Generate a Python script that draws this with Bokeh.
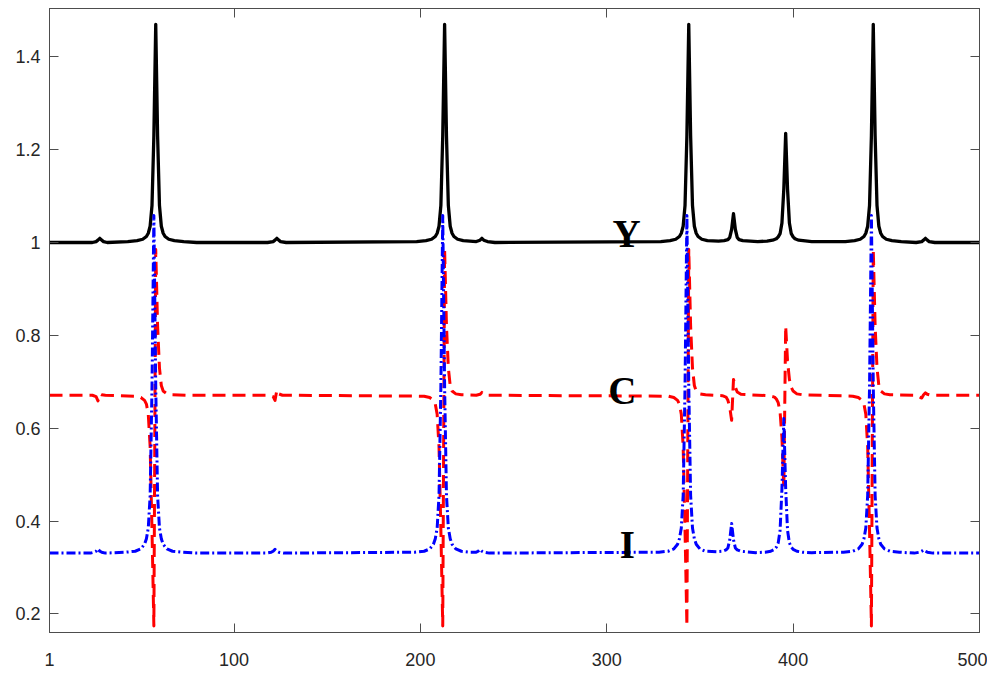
from bokeh.plotting import figure
from bokeh.models import Range1d, FixedTicker, LinearAxis, CustomJSTickFormatter, Label
from bokeh.embed import file_html
from bokeh.resources import INLINE

# ---------------- data ----------------
x_ticks = [1, 100, 200, 300, 400, 500]
y_ticks = [0.2, 0.4, 0.6, 0.8, 1.0, 1.2, 1.4]
y_tick_labels = {0.2: "0.2", 0.4: "0.4", 0.6: "0.6", 0.8: "0.8", 1.0: "1", 1.2: "1.2", 1.4: "1.4"}

# Y (black, solid)
y_x = [1, 24, 26, 27, 28, 29, 30, 32,
       43, 48, 51, 53, 54, 55, 56, 57, 58, 59, 60, 61, 62, 63, 65, 68, 73, 80,
       118, 121, 122, 123, 124, 125, 128,
       198, 203, 206, 208, 209, 210, 211, 212, 213, 214, 215, 216, 217, 218, 220, 223,
       230, 232, 233, 234, 236, 240,
       329, 334, 337, 339, 340, 341, 342, 343, 344, 345, 346, 347, 348, 349, 351, 354,
       360, 363, 365, 366, 367, 368, 369, 370, 371, 373,
       381, 386, 389, 391, 392, 393, 394, 395, 396, 397, 398, 399, 400, 401, 403,
       410, 428, 433, 436, 438, 439, 440, 441, 442, 443, 444, 445, 446, 447, 448, 450, 453, 458,
       466, 469, 470, 471, 472, 473, 476, 500]
y_v = [1.0, 1.0, 1.002, 1.005, 1.009, 1.005, 1.002, 1.0,
       1.002, 1.004, 1.007, 1.013, 1.02, 1.035, 1.08, 1.23, 1.47, 1.23, 1.08, 1.035, 1.02, 1.013, 1.007, 1.004, 1.002, 1.0,
       1.0, 1.002, 1.005, 1.009, 1.005, 1.002, 1.0,
       1.002, 1.004, 1.007, 1.013, 1.02, 1.035, 1.08, 1.23, 1.47, 1.23, 1.08, 1.035, 1.02, 1.013, 1.007, 1.004,
       1.002, 1.005, 1.009, 1.005, 1.002, 1.0,
       1.002, 1.004, 1.007, 1.013, 1.02, 1.035, 1.08, 1.23, 1.47, 1.23, 1.08, 1.035, 1.02, 1.013, 1.007, 1.004,
       1.003, 1.004, 1.006, 1.011, 1.028, 1.062, 1.028, 1.011, 1.006, 1.004,
       1.002, 1.003, 1.005, 1.008, 1.012, 1.019, 1.042, 1.115, 1.235, 1.115, 1.042, 1.019, 1.012, 1.008, 1.005,
       1.002, 1.002, 1.004, 1.007, 1.013, 1.02, 1.035, 1.08, 1.23, 1.47, 1.23, 1.08, 1.035, 1.02, 1.013, 1.007, 1.004, 1.002,
       1.0, 1.002, 1.005, 1.009, 1.005, 1.002, 1.0, 1.0]

# C (red, dashed)
c_x = [1, 24, 26, 27, 28, 29, 31,
       47, 50, 52, 53, 54, 55, 56, 57, 58, 59, 60, 61, 62, 64, 67, 75,
       119, 121, 122, 123, 124, 126,
       202, 205, 207, 208, 209, 210, 211, 212, 213, 214, 215, 216, 217, 219, 222,
       230, 232, 233, 234, 236,
       333, 336, 338, 339, 340, 341, 342, 343, 344, 345, 346, 347, 348, 350, 353,
       362, 364, 365, 366, 367, 368, 369, 370, 372,
       387, 390, 391, 392, 393, 394, 395, 396, 397, 398, 399, 400, 402, 405,
       432, 435, 437, 438, 439, 440, 441, 442, 443, 444, 445, 446, 447, 449, 452,
       466, 468, 469, 470, 471, 472, 474, 500]
c_v = [0.671, 0.671, 0.668, 0.659, 0.674, 0.672, 0.671,
       0.669, 0.666, 0.660, 0.652, 0.630, 0.56, 0.38, 0.174, 0.985, 0.82, 0.73, 0.692, 0.680, 0.674, 0.672, 0.671,
       0.671, 0.668, 0.660, 0.682, 0.674, 0.671,
       0.669, 0.666, 0.660, 0.652, 0.630, 0.56, 0.38, 0.174, 0.985, 0.82, 0.73, 0.692, 0.680, 0.674, 0.672,
       0.671, 0.673, 0.677, 0.673, 0.671,
       0.669, 0.666, 0.660, 0.652, 0.630, 0.56, 0.38, 0.174, 0.985, 0.82, 0.73, 0.692, 0.680, 0.674, 0.672,
       0.670, 0.667, 0.660, 0.645, 0.617, 0.705, 0.688, 0.678, 0.673,
       0.670, 0.667, 0.663, 0.655, 0.635, 0.58, 0.47, 0.82, 0.745, 0.705, 0.688, 0.680, 0.674, 0.672,
       0.669, 0.666, 0.660, 0.652, 0.630, 0.56, 0.38, 0.174, 0.985, 0.82, 0.73, 0.692, 0.680, 0.674, 0.672,
       0.671, 0.667, 0.665, 0.672, 0.676, 0.673, 0.671, 0.671]

# I (blue, dash-dot)
i_x = [1, 23, 25, 26, 27, 28, 29, 31,
       42, 47, 50, 52, 53, 54, 55, 56, 57, 58, 59, 60, 61, 62, 64, 67, 72, 80,
       117, 120, 121, 122, 123, 124, 127,
       197, 202, 205, 207, 208, 209, 210, 211, 212, 213, 214, 215, 216, 217, 219, 222, 227,
       230, 231, 232, 233, 234, 237,
       328, 333, 336, 338, 339, 340, 341, 342, 343, 344, 345, 346, 347, 348, 350, 353,
       359, 362, 364, 365, 366, 367, 368, 369, 370, 372,
       380, 385, 388, 390, 391, 392, 393, 394, 395, 396, 397, 398, 399, 400, 402, 405,
       410, 427, 432, 435, 437, 438, 439, 440, 441, 442, 443, 444, 445, 446, 447, 449, 452, 457,
       465, 468, 469, 470, 471, 472, 475, 500]
i_v = [0.331, 0.331, 0.333, 0.335, 0.340, 0.335, 0.333, 0.331,
       0.333, 0.335, 0.340, 0.350, 0.362, 0.385, 0.455, 0.69, 1.058, 0.69, 0.455, 0.385, 0.362, 0.350, 0.340, 0.335, 0.333, 0.331,
       0.331, 0.333, 0.335, 0.339, 0.335, 0.333, 0.331,
       0.333, 0.335, 0.340, 0.350, 0.362, 0.385, 0.455, 0.69, 1.058, 0.69, 0.455, 0.385, 0.362, 0.350, 0.340, 0.335, 0.333,
       0.333, 0.335, 0.339, 0.335, 0.333, 0.331,
       0.333, 0.335, 0.340, 0.350, 0.362, 0.385, 0.455, 0.69, 1.058, 0.69, 0.455, 0.385, 0.362, 0.350, 0.340, 0.335,
       0.334, 0.335, 0.338, 0.342, 0.360, 0.395, 0.360, 0.342, 0.338, 0.335,
       0.332, 0.333, 0.335, 0.339, 0.344, 0.353, 0.380, 0.470, 0.621, 0.470, 0.380, 0.353, 0.344, 0.339, 0.335, 0.333,
       0.332, 0.333, 0.335, 0.340, 0.350, 0.362, 0.385, 0.455, 0.69, 1.058, 0.69, 0.455, 0.385, 0.362, 0.350, 0.340, 0.335, 0.333,
       0.331, 0.333, 0.335, 0.338, 0.335, 0.333, 0.331, 0.331]

series_names = ["Y", "C", "I"]

# ---------------- figure ----------------
AX_COLOR = "#4d4d4d"
TICK_FONT = "Liberation Sans"
TICK_SIZE = "18px"

p = figure(frame_width=930, frame_height=624,
           x_range=Range1d(1, 500), y_range=Range1d(0.16, 1.504),
           output_backend="svg", toolbar_location=None,
           min_border_left=49, min_border_top=8, min_border_right=8, min_border_bottom=46,
           background_fill_color="white", border_fill_color="white")
p.grid.visible = False
p.outline_line_color = AX_COLOR
p.outline_line_width = 1

for ax in p.xaxis:
    ax.ticker = FixedTicker(ticks=x_ticks)
    ax.major_label_standoff = 20
for ax in p.yaxis:
    ax.ticker = FixedTicker(ticks=y_ticks)
    ax.major_label_overrides = y_tick_labels
    ax.major_label_standoff = 9

for ax in list(p.xaxis) + list(p.yaxis):
    ax.axis_line_color = AX_COLOR
    ax.major_tick_line_color = AX_COLOR
    ax.major_tick_in = 9
    ax.major_tick_out = 0
    ax.minor_tick_line_color = None
    ax.major_label_text_font = TICK_FONT
    ax.major_label_text_font_size = TICK_SIZE
    ax.major_label_text_color = "#262626"

# mirrored ticks on top and right
top = LinearAxis(ticker=FixedTicker(ticks=x_ticks), formatter=CustomJSTickFormatter(code="return ''"))
right = LinearAxis(ticker=FixedTicker(ticks=y_ticks), formatter=CustomJSTickFormatter(code="return ''"))
for ax in (top, right):
    ax.axis_line_color = AX_COLOR
    ax.major_tick_line_color = AX_COLOR
    ax.major_tick_in = 9
    ax.major_tick_out = 0
    ax.minor_tick_line_color = None
    ax.major_label_standoff = 0
    ax.major_label_text_font_size = "0px"
p.add_layout(top, "above")
p.add_layout(right, "right")

# ---------------- series ----------------
p.line(y_x, y_v, line_color="black", line_width=3.3, line_join="round")
p.line(c_x, c_v, line_color="#ff0000", line_width=3, line_dash="13 7", line_join="round")
p.line(i_x, i_v, line_color="#0000ff", line_width=3, line_dash="9 3 2 3", line_join="round")

# ---------------- series labels ----------------
label_pos = {"Y": (310.6, 1.019), "C": (308.3, 0.682), "I": (311.0, 0.3505)}
for name in series_names:
    lx, ly = label_pos[name]
    p.add_layout(Label(x=lx, y=ly, text=name, text_font="Liberation Serif",
                       text_font_style="bold", text_font_size="39px",
                       text_color="black", text_align="center",
                       text_baseline="alphabetic"))

open("out.html", "w").write(file_html(p, INLINE))
